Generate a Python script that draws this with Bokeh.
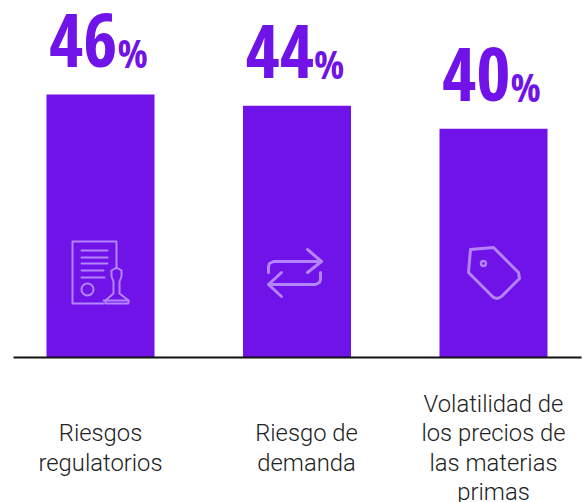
from bokeh.plotting import figure
from bokeh.models import Range1d
from bokeh.core.properties import value
from bokeh.embed import file_html
from bokeh.resources import INLINE

categories = ["Riesgos\nregulatorios", "Riesgo de\ndemanda", "Volatilidad de\nlos precios de\nlas materias\nprimas"]
values = [46, 44, 40]

PURPLE = "#7013E8"
LIGHT = "#B384FB"
W, H = 582, 502
X0, DX = 100.0, 196.5     # px of first bar centre, spacing
Y0, DY = 357.0, 5.72      # px of zero line, px per percent

p = figure(width=W, height=H, output_backend="svg", toolbar_location=None,
           min_border=0, outline_line_color=None,
           x_range=Range1d((0 - X0) / DX, (W - X0) / DX),
           y_range=Range1d((Y0 - H) / DY, (Y0 - 0) / DY))
p.axis.visible = False
p.grid.visible = False
p.background_fill_color = "white"
p.border_fill_color = "white"

fx = lambda px: (px - X0) / DX
fy = lambda py: (Y0 - py) / DY

xs = list(range(len(values)))
p.vbar(x=xs, top=values, bottom=0, width=108 / DX, fill_color=PURPLE, line_color=None)

# baseline
p.line([fx(13), fx(581)], [0, 0], line_color="#111111", line_width=2.2)

# value labels
p.text(x=xs, y=values, text=[str(v) for v in values], text_font=value("Open Sans Condensed"),
       text_font_style="bold", text_font_size="74px", text_color=PURPLE,
       text_align="right", text_baseline="middle", x_offset=17, y_offset=-54)
p.text(x=xs, y=values, text=["%"] * 3, text_font=value("Open Sans Condensed"),
       text_font_style="bold", text_font_size="40px", text_color=PURPLE,
       text_align="left", text_baseline="middle", x_offset=17, y_offset=-42)

# category labels (the middle one sits slightly right of its bar in the reference)
p.text(x=[fx(100), fx(306), fx(493)], y=[fy(447.5)] * 3, text=categories,
       text_font=value("Roboto Light"), text_font_size="23.8px", text_color="#222222",
       text_align="center", text_baseline="middle", text_line_height=1.04)

# icons, pixel outlines
doc_icon = [
    [(116, 268), (116, 241), (72, 241), (72, 303), (103, 303)],
    [(81, 250), (107, 250)], [(81, 257), (107, 257)], [(81, 263), (107, 263)],
    [(81, 270), (103, 270)], [(81, 277), (104, 277)],
    [(116, 267), (111, 270), (111, 276), (113, 281), (113, 293), (105, 300), (105, 303),
     (128, 303), (128, 300), (119, 293), (119, 281), (121, 276), (121, 270), (116, 267)],
    [(103, 300), (128, 300)],
]
other_icons = [
    [(307, 249), (321, 261), (307, 272)],
    [(321, 261), (273, 261), (269, 263), (268, 266), (268, 272)],
    [(281, 272), (268, 284), (281, 296)],
    [(268, 284), (315, 284), (319, 282), (320, 279), (320, 272)],
    [(470, 249), (493, 247), (518, 272), (519, 278), (501, 296), (497, 298), (493, 297),
     (468, 272), (470, 249)],
]
for paths, lw in ((doc_icon, 2), (other_icons, 3)):
    p.multi_line(xs=[[fx(a) for a, b in path] for path in paths],
                 ys=[[fy(b) for a, b in path] for path in paths],
                 line_color=LIGHT, line_width=lw, line_join="round", line_cap="round")
p.scatter(x=[fx(87)], y=[fy(289)], size=12, marker="circle",
          fill_color=None, line_color=LIGHT, line_width=2)
p.scatter(x=[fx(483)], y=[fy(263)], size=5, marker="circle",
          fill_color=None, line_color=LIGHT, line_width=2.5)

open("out.html", "w").write(file_html(p, INLINE))
